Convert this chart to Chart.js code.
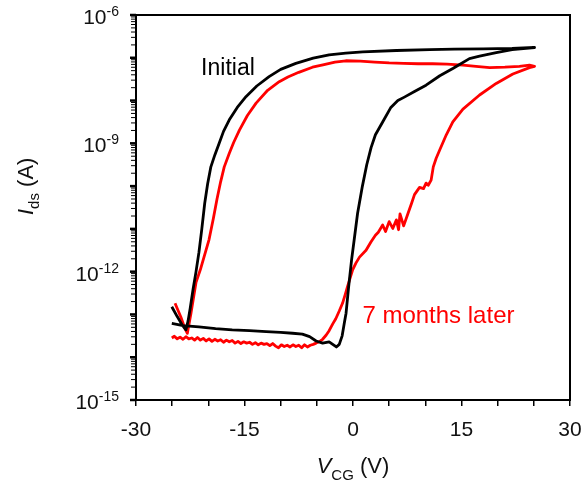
<!DOCTYPE html>
<html>
<head>
<meta charset="utf-8">
<script src="https://cdn.jsdelivr.net/npm/chart.js@4.4.1/dist/chart.umd.min.js"></script>
<style>
  html, body { margin: 0; padding: 0; background: #fff; }
</style>
</head>
<body>
<canvas id="transferChart" width="587" height="485"></canvas>
<script>
// Sweep -25 V -> +25 V -> -25 V, pairs of [V_CG (V), log10 I_ds (A)]
const initialSweep = [
    [-25.05, -13.21], [-23.5, -13.26], [-21.3, -13.29], [-19.0, -13.33], [-16.7, -13.36],
    [-14.3, -13.38], [-12.0, -13.40], [-10.0, -13.42], [-8.35, -13.44], [-7.0, -13.46],
    [-6.0, -13.52], [-5.1, -13.62], [-4.2, -13.67], [-3.3, -13.64], [-2.8, -13.70],
    [-2.3, -13.76], [-1.9, -13.70], [-1.5, -13.50], [-1.2, -13.20], [-0.96, -12.97],
    [-0.6, -12.35], [-0.2, -11.73], [0.16, -11.26], [0.63, -10.64], [1.3, -10.00],
    [1.9, -9.50], [2.5, -9.10], [3.1, -8.80], [4.1, -8.50], [5.2, -8.17],
    [6.2, -8.00], [7.1, -7.92], [8.5, -7.79], [10.1, -7.64], [12.0, -7.42],
    [13.8, -7.25], [14.5, -7.18], [16.1, -7.02], [17.5, -6.96], [19.8, -6.88],
    [22.0, -6.81], [25.1, -6.76],
    [22.0, -6.78], [18.0, -6.79], [14.0, -6.80], [10.6, -6.81], [6.0, -6.83],
    [1.35, -6.86], [-1.0, -6.89], [-3.3, -6.93], [-5.5, -7.01], [-7.9, -7.13],
    [-10.0, -7.27], [-11.6, -7.44], [-13.3, -7.66], [-14.8, -7.91], [-16.0, -8.16],
    [-17.1, -8.45], [-17.9, -8.72], [-18.5, -9.00], [-19.1, -9.27], [-19.65, -9.55],
    [-20.1, -9.95], [-20.5, -10.40], [-20.9, -11.00], [-21.3, -11.55], [-21.7, -12.00],
    [-22.1, -12.40], [-22.5, -12.85], [-22.8, -13.15], [-23.1, -13.36], [-23.6, -13.25],
    [-24.3, -13.05], [-25.05, -12.82]
];

const laterSweep = [
    [-25.05, -13.55], [-24.7, -13.51], [-24.3, -13.57], [-23.9, -13.53], [-23.5, -13.58],
    [-23.1, -13.52], [-22.7, -13.57], [-22.3, -13.55], [-21.9, -13.60], [-21.5, -13.54],
    [-21.1, -13.60], [-20.7, -13.56], [-20.3, -13.62], [-19.9, -13.57], [-19.5, -13.63],
    [-19.1, -13.58], [-18.7, -13.62], [-18.3, -13.59], [-17.9, -13.65], [-17.5, -13.60],
    [-17.1, -13.64], [-16.7, -13.61], [-16.3, -13.67], [-15.9, -13.63], [-15.5, -13.68],
    [-15.1, -13.64], [-14.7, -13.67], [-14.3, -13.65], [-13.9, -13.70], [-13.5, -13.66],
    [-13.1, -13.71], [-12.7, -13.67], [-12.3, -13.70], [-11.9, -13.68], [-11.5, -13.73],
    [-11.1, -13.68], [-10.7, -13.74], [-10.3, -13.78], [-9.9, -13.71], [-9.5, -13.75],
    [-9.1, -13.72], [-8.7, -13.76], [-8.3, -13.71], [-7.9, -13.75], [-7.5, -13.72],
    [-7.1, -13.78], [-6.7, -13.71], [-6.3, -13.76], [-5.9, -13.72], [-5.5, -13.70],
    [-5.1, -13.67], [-4.6, -13.63], [-4.2, -13.58], [-3.7, -13.48],
    [-3.3, -13.38], [-2.8, -13.22], [-2.38, -13.10], [-1.9, -12.92], [-1.45, -12.74],
    [-1.1, -12.55], [-0.76, -12.35], [-0.4, -12.15], [-0.05, -11.96], [0.4, -11.80],
    [0.9, -11.66], [1.8, -11.50], [2.5, -11.30], [3.1, -11.15], [3.5, -11.08],
    [4.1, -10.91], [4.5, -11.06], [5.0, -10.83], [5.5, -10.99], [6.0, -10.79],
    [6.3, -11.02], [6.5, -10.65], [7.0, -10.93], [7.6, -10.64], [8.1, -10.40],
    [8.5, -10.20], [9.2, -10.03], [9.75, -10.06], [10.1, -9.93], [10.4, -9.98],
    [10.8, -9.86], [11.1, -9.55], [11.5, -9.35], [12.0, -9.15], [12.9, -8.80],
    [13.8, -8.50], [15.2, -8.20], [17.5, -7.87], [19.8, -7.60], [22.1, -7.38],
    [24.4, -7.23], [25.1, -7.20],
    [24.4, -7.17], [23.0, -7.20], [21.0, -7.22], [18.9, -7.23], [17.0, -7.20],
    [15.2, -7.17], [13.0, -7.15], [11.0, -7.14], [9.0, -7.14], [7.0, -7.13],
    [5.0, -7.12], [3.0, -7.10], [1.0, -7.08], [-1.0, -7.07], [-2.5, -7.10],
    [-4.0, -7.16], [-5.6, -7.22], [-7.5, -7.34], [-9.0, -7.45], [-10.2, -7.56],
    [-11.8, -7.76], [-13.4, -8.06], [-14.6, -8.35], [-15.7, -8.69], [-16.5, -8.98],
    [-17.1, -9.23], [-17.8, -9.55], [-18.3, -9.90], [-18.8, -10.30], [-19.3, -10.75],
    [-19.9, -11.25], [-20.5, -11.60], [-21.1, -11.95], [-21.7, -12.25], [-22.4, -12.97],
    [-22.9, -13.44], [-23.3, -13.30], [-23.8, -13.06], [-24.3, -12.86], [-24.6, -12.74]
];

const xTickLabels = [-30, -15, 0, 15, 30];
const yTickExponents = [-6, -9, -12, -15];
const seriesNames = ['Initial', '7 months later'];

const FONT = "'Liberation Sans', Arial, sans-serif";

function toPoints(sweep) {
    return sweep.map(p => ({ x: p[0], y: Math.pow(10, p[1]) }));
}

// frame, log ticks, superscript labels, axis titles and curve labels
const decorations = {
    id: 'decorations',
    afterDraw(chart) {
        const { ctx, chartArea: a, scales: { x, y } } = chart;
        ctx.save();
        ctx.strokeStyle = '#000';
        ctx.fillStyle = '#111';

        const tick = (x1, y1, x2, y2) => {
            ctx.beginPath();
            ctx.moveTo(x1, y1);
            ctx.lineTo(x2, y2);
            ctx.stroke();
        };

        for (let e = -15; e <= -6; e++) {
            const py = y.getPixelForValue(Math.pow(10, e));
            ctx.lineWidth = 2.5;
            tick(a.left - 6, py, a.left, py);
            if (e < -6) {
                ctx.lineWidth = 1;
                for (let m = 2; m <= 9; m++) {
                    const q = y.getPixelForValue(m * Math.pow(10, e));
                    tick(a.left - 5, q, a.left, q);
                }
            }
        }

        ctx.lineWidth = 2;
        ctx.strokeRect(a.left, a.top, a.right - a.left, a.bottom - a.top);

        // y tick labels 10^n
        ctx.textAlign = 'left';
        ctx.textBaseline = 'alphabetic';
        yTickExponents.forEach(e => {
            const py = y.getPixelForValue(Math.pow(10, e));
            const sup = String(e);
            ctx.font = '14px ' + FONT;
            const supW = ctx.measureText(sup).width;
            ctx.font = '21px ' + FONT;
            const tenW = ctx.measureText('10').width;
            const right = a.left - 17;
            ctx.fillText('10', right - supW - tenW, py + 9);
            ctx.font = '14px ' + FONT;
            ctx.fillText(sup, right - supW, py + 1);
        });

        // x title: V_CG (V)
        const parts = [
            ['italic 22px ' + FONT, 'V', 0],
            ['15px ' + FONT, 'CG', 7],
            ['22px ' + FONT, ' (V)', 0]
        ];
        let total = 0;
        parts.forEach(p => { ctx.font = p[0]; total += ctx.measureText(p[1]).width; });
        let cx = (a.left + a.right) / 2 - total / 2;
        parts.forEach(p => {
            ctx.font = p[0];
            ctx.fillText(p[1], cx, 473 + p[2]);
            cx += ctx.measureText(p[1]).width;
        });

        // y title: I_ds (A)
        const yparts = [
            ['italic 22px ' + FONT, 'I', 0],
            ['15px ' + FONT, 'ds', 6],
            ['22px ' + FONT, ' (A)', 0]
        ];
        ctx.translate(33, 215);
        ctx.rotate(-Math.PI / 2);
        let cy = 0;
        yparts.forEach(p => {
            ctx.font = p[0];
            ctx.fillText(p[1], cy, p[2]);
            cy += ctx.measureText(p[1]).width;
        });
        ctx.setTransform(1, 0, 0, 1, 0, 0);

        // curve labels
        ctx.font = '23px ' + FONT;
        ctx.fillStyle = '#000';
        ctx.fillText(seriesNames[0], x.getPixelForValue(-21.0), y.getPixelForValue(Math.pow(10, -7.40)));
        ctx.font = '24px ' + FONT;
        ctx.fillStyle = '#ff0000';
        ctx.fillText(seriesNames[1], x.getPixelForValue(1.3), y.getPixelForValue(Math.pow(10, -13.2)));
        ctx.restore();
    }
};

new Chart(document.getElementById('transferChart'), {
    type: 'scatter',
    data: {
        datasets: [
            {
                label: seriesNames[0],
                data: toPoints(initialSweep),
                showLine: true,
                borderColor: '#000000',
                borderWidth: 2.8,
                pointRadius: 0,
                tension: 0,
                borderJoinStyle: 'round'
            },
            {
                label: seriesNames[1],
                data: toPoints(laterSweep),
                showLine: true,
                borderColor: '#ff0000',
                borderWidth: 2.8,
                pointRadius: 0,
                tension: 0,
                borderJoinStyle: 'round'
            }
        ]
    },
    options: {
        responsive: false,
        animation: false,
        layout: { padding: { left: 0, right: 17, top: 15, bottom: 0 } },
        plugins: {
            legend: { display: false },
            tooltip: { enabled: false }
        },
        scales: {
            x: {
                type: 'linear',
                min: -30,
                max: 30,
                afterFit: s => { s.height = 85; s.paddingLeft = 0; s.paddingRight = 0; },
                border: { display: false },
                grid: { drawOnChartArea: false, tickLength: 6, color: '#000', lineWidth: 1.5 },
                ticks: {
                    stepSize: 5,
                    autoSkip: false,
                    maxRotation: 0,
                    padding: 12,
                    color: '#111',
                    font: { family: FONT, size: 21 },
                    callback: v => xTickLabels.includes(v) ? String(v) : ''
                }
            },
            y: {
                type: 'logarithmic',
                min: 1e-15,
                max: 1e-6,
                afterFit: s => { s.width = 136; s.paddingTop = 0; s.paddingBottom = 0; },
                border: { display: false },
                grid: { display: false },
                ticks: { display: false }
            }
        }
    },
    plugins: [decorations]
});
</script>
</body>
</html>
